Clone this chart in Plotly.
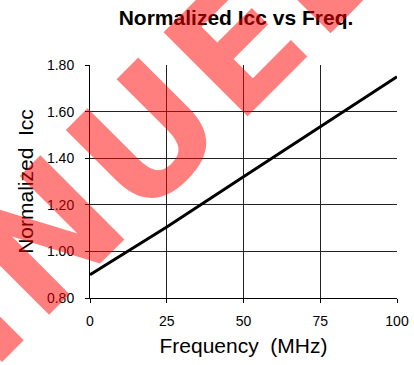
import plotly.graph_objects as go

# Supply current vs. clock frequency
freq_mhz = [0, 25, 50, 75, 100]
norm_icc = [0.90, 1.105, 1.32, 1.535, 1.75]

x_ticks = [0, 25, 50, 75, 100]
y_ticks = [0.80, 1.00, 1.20, 1.40, 1.60, 1.80]
y_tick_text = ["0.80", "1.00", "1.20", "1.40", "1.60", "1.80"]

FONT = "Liberation Sans, Arial, Helvetica, sans-serif"
STAMP_FONT = "DejaVu Sans, Verdana, sans-serif"

fig = go.Figure()
fig.add_trace(go.Scatter(
    x=freq_mhz, y=norm_icc, mode="lines",
    line=dict(color="black", width=3),
    showlegend=False, hoverinfo="skip",
))

axis_common = dict(
    showline=True, linecolor="black", linewidth=1,
    showgrid=True, gridcolor="#222222", gridwidth=1,
    ticks="outside", ticklen=4, tickcolor="black", tickwidth=1,
    tickfont=dict(family=FONT, size=14, color="black"),
    zeroline=False, fixedrange=True, automargin=False,
)

fig.update_xaxes(
    range=[0, 100], tickvals=x_ticks, ticktext=[str(v) for v in x_ticks],
    title=dict(text="Frequency  (MHz)", font=dict(family=FONT, size=21, color="black"), standoff=10),
    ticklabelstandoff=6,
    **axis_common,
)
fig.update_yaxes(
    range=[0.8, 1.8], tickvals=y_ticks, ticktext=y_tick_text,
    title=dict(text="Normalized  Icc", font=dict(family=FONT, size=21, color="black"), standoff=7),
    ticklabelstandoff=8,
    **axis_common,
)

fig.update_layout(
    width=414, height=365,
    margin=dict(l=90, r=17, t=65, b=67),
    paper_bgcolor="white", plot_bgcolor="white",
    title=dict(
        text="<b>Normalized Icc vs Freq.</b>",
        font=dict(family=FONT, size=21, color="black"),
        x=236 / 414, xanchor="center", y=1 - 18 / 365, yanchor="middle",
    ),
)

# Diagonal status stamp laid over the whole chart
fig.add_annotation(
    text='<span style="letter-spacing:6px"><b>DISCONTINUED</b></span>',
    xref="paper", yref="paper",
    x=-0.744, y=-0.536, xanchor="center", yanchor="middle",
    textangle=-45, showarrow=False,
    font=dict(family=STAMP_FONT, size=163, color="rgba(255,0,0,0.5)"),
)

fig.write_html("out.html")
